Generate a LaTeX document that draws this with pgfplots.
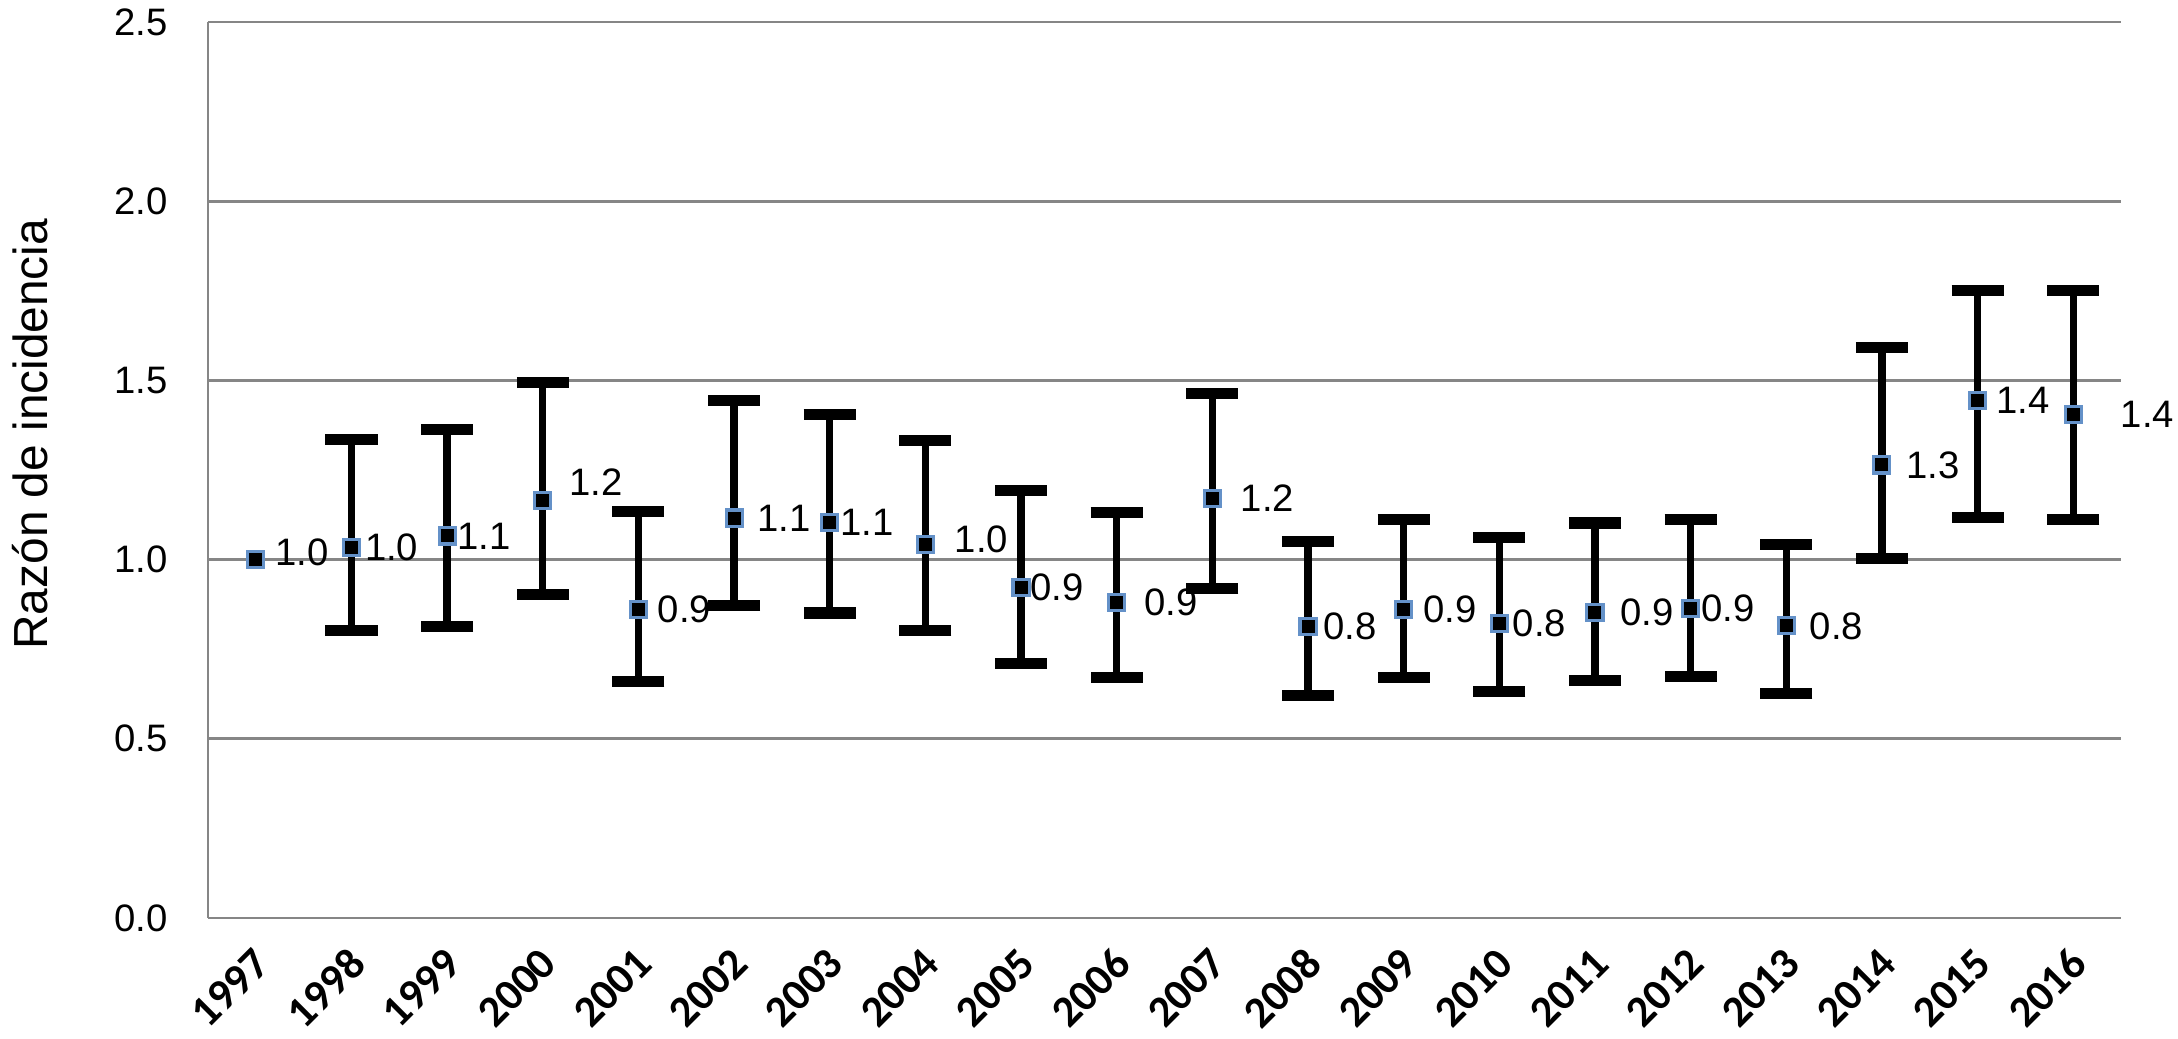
\documentclass[border=0pt]{standalone}
\usepackage{fontspec}
\setmainfont{Liberation Sans}
\newfontfamily\carlito{Carlito}
\usepackage{pgfplots}
\pgfplotsset{compat=1.18}
\usepackage{pgfplotstable}
\usetikzlibrary{calc}

\definecolor{gridgray}{RGB}{134,134,134}
\definecolor{markblue}{RGB}{100,145,200}

% incidence ratio with 95% interval; dx/dy = label offset in px
\pgfplotstableread{
x  y     hi    lo    lab dx dy
0  1.000 1.000 1.000 1.0 18 7
1  1.034 1.334 0.803 1.0 12 0
2  1.066 1.364 0.813 1.1 9  0
3  1.165 1.495 0.903 1.2 25 18
4  0.861 1.135 0.661 0.9 18 0
5  1.116 1.443 0.872 1.1 22 0
6  1.104 1.404 0.851 1.1 9  0
7  1.041 1.333 0.801 1.0 28 6
8  0.923 1.192 0.711 0.9 8  0
9  0.881 1.132 0.672 0.9 26 0
10 1.171 1.463 0.920 1.2 27 0
11 0.813 1.051 0.621 0.8 14 0
12 0.861 1.111 0.672 0.9 18 0
13 0.821 1.062 0.632 0.8 12 0
14 0.853 1.102 0.663 0.9 24 0
15 0.863 1.111 0.673 0.9 9  0
16 0.815 1.041 0.626 0.8 22 0
17 1.264 1.592 1.002 1.3 23 0
18 1.444 1.752 1.118 1.4 17 0
19 1.405 1.752 1.113 1.4 46 0
}\irdata

\begin{document}
\begin{tikzpicture}
\begin{axis}[
  name=ax,
  scale only axis,
  width=17.567cm, height=8.228cm,
  xmin=-0.5, xmax=19.5, ymin=0, ymax=2.5,
  clip=false,
  axis lines=left,
  axis line style={gridgray, line width=0.7pt, -},
  ymajorgrids,
  grid style={gridgray, line width=0.7pt},
  major tick length=0pt,
  xtick={0,...,19},
  xticklabels={1997,1998,1999,2000,2001,2002,2003,2004,2005,2006,2007,2008,2009,2010,2011,2012,2013,2014,2015,2016},
  ytick={0,0.5,1,1.5,2,2.5},
  /pgf/number format/assume math mode=true,
  yticklabel style={font=\fontsize{10}{12}\selectfont, xshift=-7pt,
    /pgf/number format/fixed, /pgf/number format/fixed zerofill,
    /pgf/number format/precision=1},
  xticklabel style={xshift=4pt, yshift=-7.5pt, rotate=45, anchor=east,
    font=\carlito\bfseries\fontsize{11.5}{14}\selectfont},
  ylabel={Razón de incidencia},
  ylabel style={font=\fontsize{12.5}{15}\selectfont, at={(ticklabel cs:0.54,10.5pt)}, anchor=south},
]
  % error bars (1997 is the reference year, no interval)
  \addplot[draw=none, mark=none, forget plot, skip coords between index={0}{1},
    error bars/.cd, y dir=both, y explicit,
    error bar style={draw=black, solid, line width=1.9pt},
    error mark options={draw=black, solid, rotate=90, line width=2.9pt, mark size=6.8pt}]
    table[x=x, y=y, y error plus expr=\thisrow{hi}-\thisrow{y},
          y error minus expr=\thisrow{y}-\thisrow{lo}] {\irdata};
  % point estimates with labels
  \addplot[only marks, mark=square*, mark size=2.1pt,
    mark options={fill=black, draw=markblue, line width=0.8pt},
    nodes near coords, point meta=explicit symbolic,
    visualization depends on={\thisrow{dx} \as \dx},
    visualization depends on={\thisrow{dy} \as \dy},
    nodes near coords style={anchor=west, inner sep=0pt, text=black,
      font=\fontsize{10}{12}\selectfont,
      xshift=\dx*0.2613pt, yshift=\dy*0.2613pt}]
    table[x=x, y=y, meta=lab] {\irdata};
\end{axis}
\pgfresetboundingbox
\path[use as bounding box] ($(ax.south west)+(-1.910cm,-1.111cm)$) rectangle ($(ax.north east)+(0.523cm,0.202cm)$);
\end{tikzpicture}
\end{document}
